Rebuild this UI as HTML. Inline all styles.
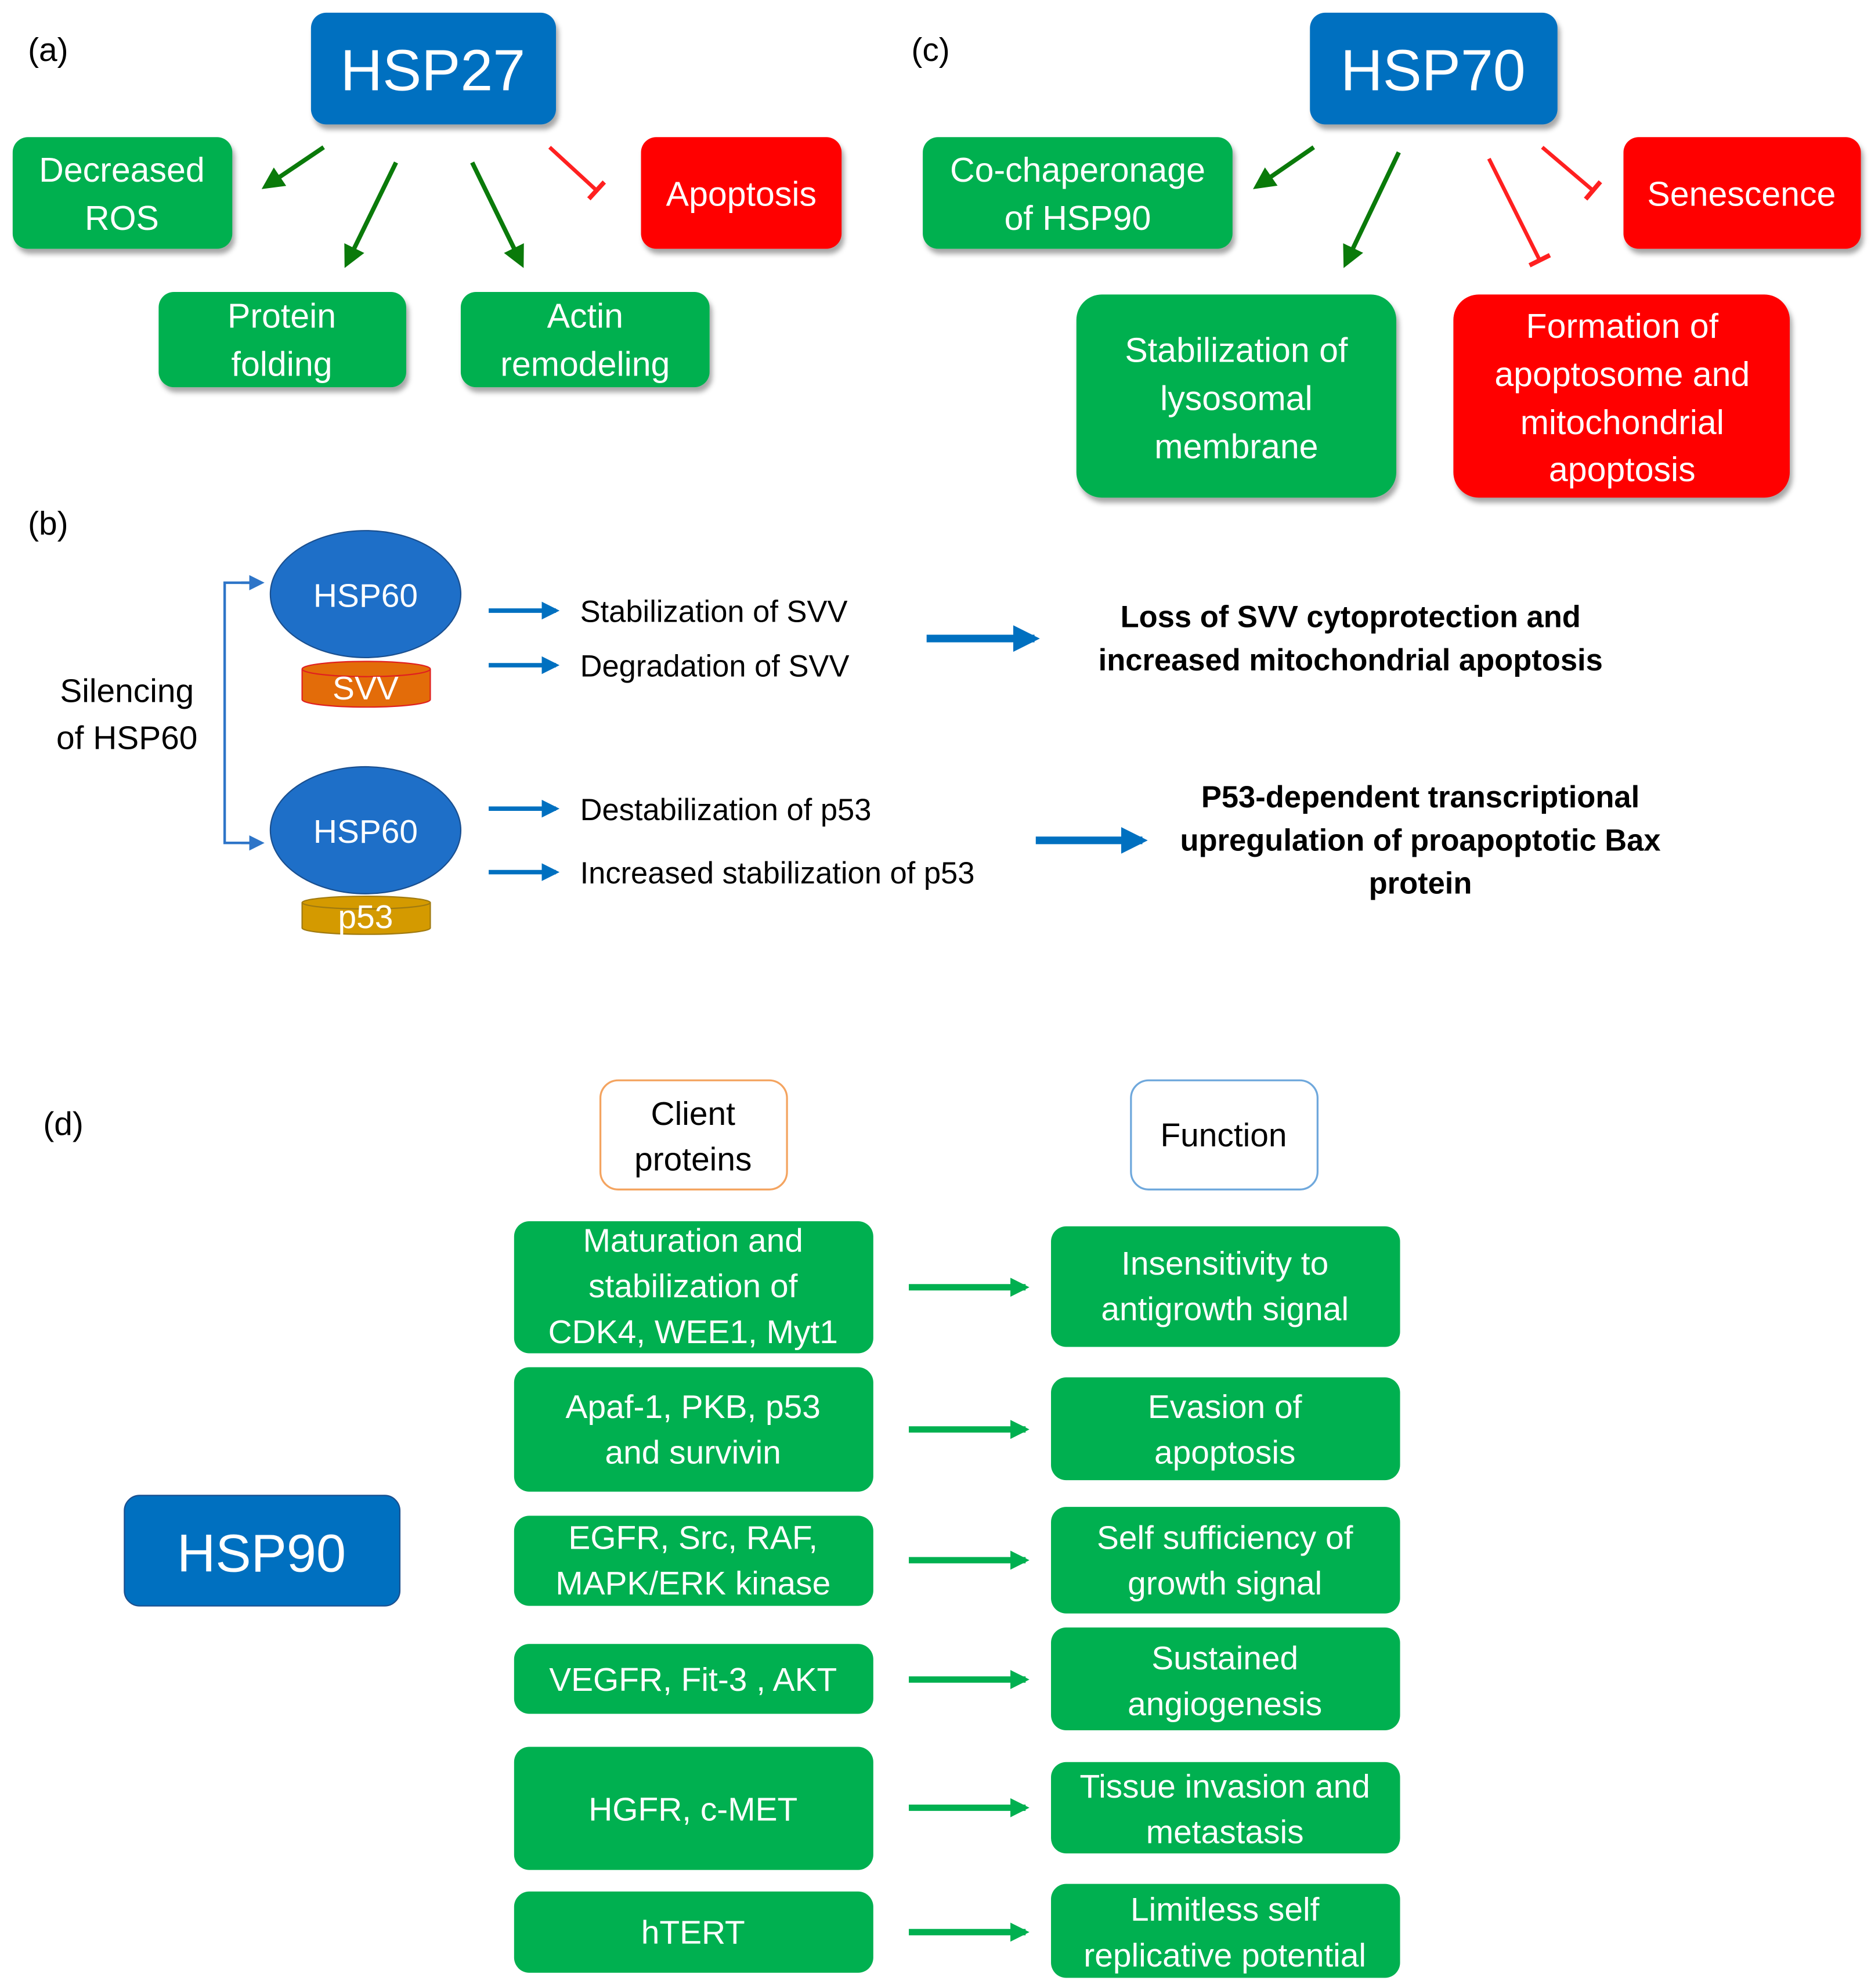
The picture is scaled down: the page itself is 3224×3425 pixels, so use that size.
<!DOCTYPE html>
<html><head><meta charset="utf-8"><style>html,body{margin:0;padding:0;background:#fff}svg{display:block}</style></head><body>
<svg width="3224" height="3425" viewBox="0 0 1474 1566" preserveAspectRatio="none" xmlns="http://www.w3.org/2000/svg" font-family="'Liberation Sans', 'DejaVu Sans', sans-serif">
<defs>
<filter id="sh" x="-10%" y="-10%" width="130%" height="130%"><feDropShadow dx="2" dy="4" stdDeviation="2" flood-color="#000" flood-opacity="0.35"/></filter>
<marker id="ag" viewBox="0 0 10 10" refX="8" refY="5" markerWidth="5" markerHeight="5" orient="auto"><path d="M0,0 L10,5 L0,10 z" fill="#0a7a0a"/></marker>
<marker id="ab" viewBox="0 0 10 10" refX="8" refY="5" markerWidth="4" markerHeight="4" orient="auto"><path d="M0,0 L10,5 L0,10 z" fill="#0070c0"/></marker>
<marker id="ab2" viewBox="0 0 10 10" refX="8" refY="5" markerWidth="3.5" markerHeight="3.5" orient="auto"><path d="M0,0 L10,5 L0,10 z" fill="#0070c0"/></marker>
<marker id="ab3" viewBox="0 0 10 10" refX="8" refY="5" markerWidth="6" markerHeight="6" orient="auto"><path d="M0,0 L10,5 L0,10 z" fill="#2e75c8"/></marker>
<marker id="agr" viewBox="0 0 10 10" refX="8" refY="5" markerWidth="3" markerHeight="3" orient="auto"><path d="M0,0 L10,5 L0,10 z" fill="#00b050"/></marker>
<marker id="tr" viewBox="0 0 10 10" refX="5" refY="5" markerWidth="6" markerHeight="6" orient="auto"><path d="M5,0 L5,10" stroke="#ff2020" stroke-width="2"/></marker>
</defs>
<g font-size="26" fill="#000">
<text x="22" y="48">(a)</text><text x="718" y="48">(c)</text><text x="22" y="421">(b)</text><text x="34" y="894">(d)</text>
</g>
<!-- (a) -->
<g filter="url(#sh)">
<rect x="245" y="10" width="193" height="88" rx="12" fill="#0070c0"/>
<rect x="10" y="108" width="173" height="88" rx="12" fill="#00b050"/>
<rect x="505" y="108" width="158" height="88" rx="12" fill="#ff0000"/>
<rect x="125" y="230" width="195" height="75" rx="12" fill="#00b050"/>
<rect x="363" y="230" width="196" height="75" rx="12" fill="#00b050"/>
<rect x="1032" y="10" width="195" height="88" rx="12" fill="#0070c0"/>
<rect x="727" y="108" width="244" height="88" rx="12" fill="#00b050"/>
<rect x="1279" y="108" width="187" height="88" rx="12" fill="#ff0000"/>
<rect x="848" y="232" width="252" height="160" rx="20" fill="#00b050"/>
<rect x="1145" y="232" width="265" height="160" rx="20" fill="#ff0000"/>
</g>
<g fill="#fff" text-anchor="middle" font-size="27">
<text x="341" y="71" font-size="46">HSP27</text>
<text x="96" y="143">Decreased</text><text x="96" y="181">ROS</text>
<text x="584" y="162">Apoptosis</text>
<text x="222" y="258">Protein</text><text x="222" y="296">folding</text>
<text x="461" y="258">Actin</text><text x="461" y="296">remodeling</text>
<text x="1129" y="71" font-size="46">HSP70</text>
<text x="849" y="143">Co-chaperonage</text><text x="849" y="181">of HSP90</text>
<text x="1372" y="162">Senescence</text>
<text x="974" y="285">Stabilization of</text><text x="974" y="323">lysosomal</text><text x="974" y="361">membrane</text>
<text x="1278" y="266">Formation of</text><text x="1278" y="304">apoptosome and</text><text x="1278" y="342">mitochondrial</text><text x="1278" y="379">apoptosis</text>
</g>
<g stroke="#0a7a0a" stroke-width="3.5" fill="none" marker-end="url(#ag)">
<line x1="255" y1="116" x2="209" y2="147"/><line x1="312" y1="128" x2="273" y2="208"/><line x1="372" y1="128" x2="411" y2="208"/>
<line x1="1035" y1="116" x2="990" y2="147"/><line x1="1102" y1="120" x2="1060" y2="208"/>
</g>
<g stroke="#ff2020" stroke-width="3" fill="none" marker-end="url(#tr)">
<line x1="433" y1="116" x2="470" y2="150"/><line x1="1173" y1="125" x2="1213" y2="205"/><line x1="1215" y1="116" x2="1255" y2="150"/>
</g>
<!-- (b) -->
<text x="100" y="553" font-size="26" text-anchor="middle">Silencing</text>
<text x="100" y="590" font-size="26" text-anchor="middle">of HSP60</text>
<path d="M204,459 H177 V664 H204" stroke="#2e75c8" stroke-width="2" fill="none"/>
<line x1="190" y1="459" x2="206" y2="459" stroke="#2e75c8" stroke-width="2" marker-end="url(#ab3)"/>
<line x1="190" y1="664" x2="206" y2="664" stroke="#2e75c8" stroke-width="2" marker-end="url(#ab3)"/>
<g stroke-width="1">
<rect x="238" y="527" width="101" height="24" fill="#e36c09"/>
<ellipse cx="288.5" cy="551" rx="50.5" ry="6" fill="#e36c09" stroke="#e02020"/>
<rect x="238" y="527" width="101" height="24" fill="#e36c09"/>
<line x1="238" y1="527" x2="238" y2="551" stroke="#e02020"/><line x1="339" y1="527" x2="339" y2="551" stroke="#e02020"/>
<ellipse cx="288.5" cy="527" rx="50.5" ry="6" fill="#e36c09" stroke="#e02020"/>
<rect x="238" y="711" width="101" height="20" fill="#d49a00"/>
<ellipse cx="288.5" cy="731" rx="50.5" ry="5" fill="#d49a00" stroke="#a07a10"/>
<rect x="238" y="711" width="101" height="20" fill="#d49a00"/>
<line x1="238" y1="711" x2="238" y2="731" stroke="#a07a10"/><line x1="339" y1="711" x2="339" y2="731" stroke="#a07a10"/>
<ellipse cx="288.5" cy="711" rx="50.5" ry="5" fill="#d49a00" stroke="#a07a10"/>
</g>
<ellipse cx="288" cy="468" rx="75" ry="50" fill="#1e6fc8" stroke="#1a4f8f" stroke-width="1"/>
<ellipse cx="288" cy="654" rx="75" ry="50" fill="#1e6fc8" stroke="#1a4f8f" stroke-width="1"/>
<g fill="#fff" text-anchor="middle" font-size="26">
<text x="288" y="478">HSP60</text><text x="288" y="664">HSP60</text>
<text x="288" y="551">SVV</text><text x="288" y="731">p53</text>
</g>
<g stroke="#0070c0" stroke-width="3.5" marker-end="url(#ab)">
<line x1="385" y1="481" x2="438" y2="481"/><line x1="385" y1="524" x2="438" y2="524"/>
<line x1="385" y1="637" x2="438" y2="637"/><line x1="385" y1="687" x2="438" y2="687"/>
</g>
<g stroke="#0070c0" stroke-width="6" marker-end="url(#ab2)">
<line x1="730" y1="503" x2="815" y2="503"/><line x1="816" y1="662" x2="900" y2="662"/>
</g>
<g font-size="24">
<text x="457" y="490">Stabilization of SVV</text><text x="457" y="533">Degradation of SVV</text>
<text x="457" y="646">Destabilization of p53</text><text x="457" y="696">Increased stabilization of p53</text>
</g>
<g font-size="24" font-weight="bold" text-anchor="middle">
<text x="1064" y="494">Loss of SVV cytoprotection and</text><text x="1064" y="528">increased mitochondrial apoptosis</text>
<text x="1119" y="636">P53-dependent transcriptional</text><text x="1119" y="670">upregulation of proapoptotic Bax</text><text x="1119" y="704">protein</text>
</g>
<!-- (d) -->
<rect x="473" y="851" width="147" height="86" rx="14" fill="#fff" stroke="#f4a460" stroke-width="1.5"/>
<rect x="891" y="851" width="147" height="86" rx="14" fill="#fff" stroke="#6fa8dc" stroke-width="1.5"/>
<g font-size="26" text-anchor="middle">
<text x="546" y="886">Client</text><text x="546" y="922">proteins</text><text x="964" y="903">Function</text>
</g>
<rect x="98" y="1178" width="217" height="87" rx="12" fill="#0070c0" stroke="#1a4f8f" stroke-width="1"/>
<text x="206" y="1238" font-size="42" fill="#fff" text-anchor="middle">HSP90</text>
<g fill="#00b050">
<rect x="405" y="962" width="283" height="104" rx="12"/><rect x="405" y="1077" width="283" height="98" rx="12"/>
<rect x="405" y="1194" width="283" height="71" rx="12"/><rect x="405" y="1295" width="283" height="55" rx="12"/>
<rect x="405" y="1376" width="283" height="97" rx="12"/><rect x="405" y="1490" width="283" height="64" rx="12"/>
<rect x="828" y="966" width="275" height="95" rx="12"/><rect x="828" y="1085" width="275" height="81" rx="12"/>
<rect x="828" y="1187" width="275" height="84" rx="12"/><rect x="828" y="1282" width="275" height="81" rx="12"/>
<rect x="828" y="1388" width="275" height="72" rx="12"/><rect x="828" y="1484" width="275" height="74" rx="12"/>
</g>
<g fill="#fff" text-anchor="middle" font-size="26">
<text x="546" y="986">Maturation and</text><text x="546" y="1022">stabilization of</text><text x="546" y="1058">CDK4, WEE1, Myt1</text>
<text x="546" y="1117">Apaf-1, PKB, p53</text><text x="546" y="1153">and survivin</text>
<text x="546" y="1220">EGFR, Src, RAF,</text><text x="546" y="1256">MAPK/ERK kinase</text>
<text x="546" y="1332">VEGFR, Fit-3 , AKT</text>
<text x="546" y="1434">HGFR, c-MET</text>
<text x="546" y="1531">hTERT</text>
<text x="965" y="1004">Insensitivity to</text><text x="965" y="1040">antigrowth signal</text>
<text x="965" y="1117">Evasion of</text><text x="965" y="1153">apoptosis</text>
<text x="965" y="1220">Self sufficiency of</text><text x="965" y="1256">growth signal</text>
<text x="965" y="1315">Sustained</text><text x="965" y="1351">angiogenesis</text>
<text x="965" y="1416">Tissue invasion and</text><text x="965" y="1452">metastasis</text>
<text x="965" y="1513">Limitless self</text><text x="965" y="1549">replicative potential</text>
</g>
<g stroke="#00b050" stroke-width="5" marker-end="url(#agr)">
<line x1="716" y1="1014" x2="808" y2="1014"/><line x1="716" y1="1126" x2="808" y2="1126"/>
<line x1="716" y1="1229" x2="808" y2="1229"/><line x1="716" y1="1323" x2="808" y2="1323"/>
<line x1="716" y1="1424" x2="808" y2="1424"/><line x1="716" y1="1522" x2="808" y2="1522"/>
</g>
</svg>
</body></html>
